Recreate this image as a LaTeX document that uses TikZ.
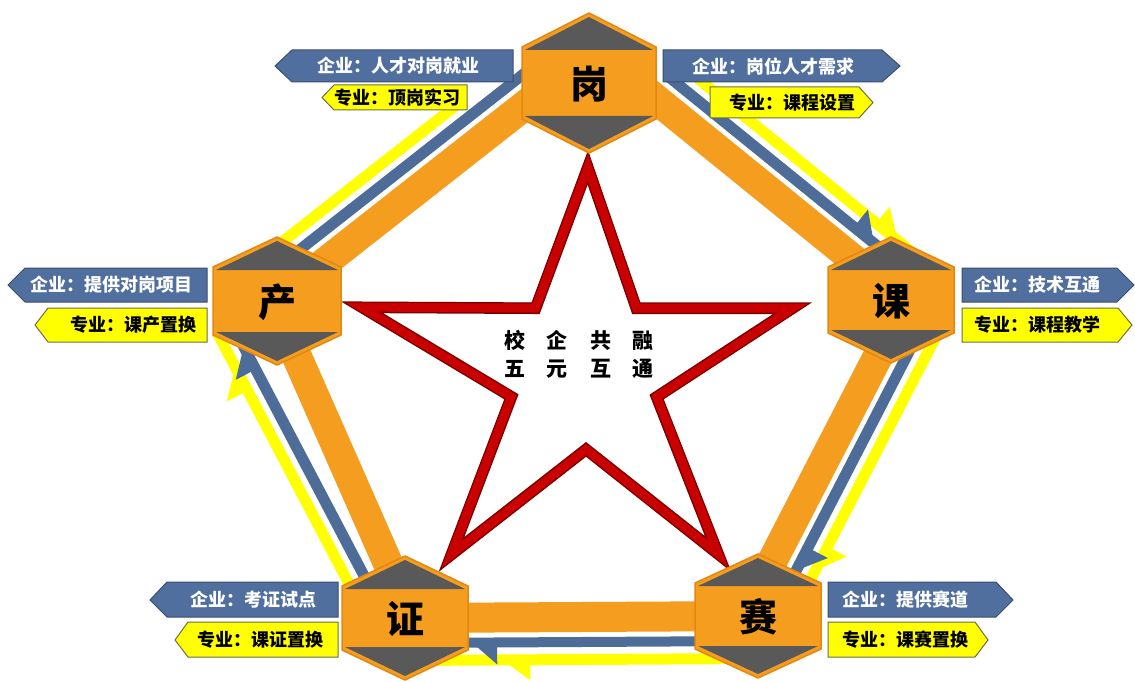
\documentclass[tikz,border=0pt]{standalone}
\usepackage{fontspec}
\newfontfamily\cjk{Noto Sans CJK SC}
\usetikzlibrary{calc}
\definecolor{orng}{RGB}{244,157,30}
\definecolor{orngdk}{RGB}{226,136,16}
\definecolor{hexgray}{RGB}{89,89,89}
\definecolor{stripblue}{RGB}{78,108,152}
\definecolor{stripyel}{RGB}{255,255,0}
\definecolor{starred}{RGB}{200,0,0}
\definecolor{stardk}{RGB}{125,0,0}
\definecolor{lblblue}{RGB}{80,110,158}
\definecolor{lblbluedk}{RGB}{58,78,112}
\definecolor{lblyeldk}{RGB}{110,110,70}
% strip along edge #1->#2 : colour #3, offsets #4..#5, trims #6 (start) #7 (end)
\newcommand\flowstrip[7]{\fill[#3] ($(#1)!#6!(#2)!#4!90:(#2)$) -- ($(#1)!#6!(#2)!#5!90:(#2)$) -- ($(#2)!#7!(#1)!#5!-90:(#1)$) -- ($(#2)!#7!(#1)!#4!-90:(#1)$) -- cycle;}
% barb on edge #1->#2 : colour #3, base offset #4, tip offset #5, back #6 and front #7 (distances from end)
\newcommand\flowbarb[7]{\fill[#3] ($(#2)!#6!(#1)!#4!-90:(#1)$) -- ($(#2)!#6!(#1)!#5!-90:(#1)$) -- ($(#2)!#7!(#1)!#4!-90:(#1)$) -- cycle;}
% hexagon: name, cx, cy, half width, half side, half height, character
\newcommand\hexnode[7]{%
 \filldraw[fill=orng, draw=orngdk, line width=1.5pt] (#2,#3-#6) -- (#2+#4,#3-#5) -- (#2+#4,#3+#5) -- (#2,#3+#6) -- (#2-#4,#3+#5) -- (#2-#4,#3-#5) -- cycle;
 \fill[hexgray] (#2-#4+3,#3-#5+3) -- (#2+#4-3,#3-#5+3) -- (#2,#3-#6+4) -- cycle;
 \fill[hexgray] (#2-#4+3,#3+#5-3) -- (#2+#4-3,#3+#5-3) -- (#2,#3+#6-4) -- cycle;
 \node[hexchar] (#1) at (#2,#3+1) {#7};}
\tikzset{
 band/.style={orng, line width=30pt},
 bluelbl/.style={fill=lblblue, draw=lblbluedk, line width=1pt},
 yellbl/.style={fill=stripyel, draw=lblyeldk, line width=1pt},
 bluetxt/.style={text=white, font=\cjk\bfseries\fontsize{18}{20}\selectfont, inner sep=0pt},
 yeltxt/.style={text=black, font=\cjk\bfseries\fontsize{18}{20}\selectfont, inner sep=0pt},
 hexchar/.style={text=black, font=\cjk\bfseries\fontsize{38}{40}\selectfont, inner sep=0pt},
 startxt/.style={text=black, align=center, font=\cjk\bfseries\fontsize{21}{28}\selectfont, inner sep=0pt},
}
\begin{document}
\begin{tikzpicture}[x=1pt,y=-1pt]
\useasboundingbox (0,0) rectangle (1135,682);
\fill[white] (0,0) rectangle (1135,682);
% pentagon edges (clockwise)
\coordinate (P1) at (594,49);  \coordinate (Q1) at (896,294);
\coordinate (P2) at (909,296); \coordinate (Q2) at (744,616);
\coordinate (P3) at (758,616); \coordinate (Q3) at (405,618);
\coordinate (P4) at (412,618); \coordinate (Q4) at (272,300);
\coordinate (A4) at (415,618); \coordinate (B4) at (248,300);
\coordinate (P5) at (277,300); \coordinate (Q5) at (589,55);
% yellow flows
\flowstrip{P1}{Q1}{stripyel}{37pt}{48pt}{75pt}{0pt}
\flowstrip{P2}{Q2}{stripyel}{37pt}{48pt}{0pt}{0pt}
\flowstrip{P3}{Q3}{stripyel}{37pt}{48pt}{0pt}{0pt}
\flowstrip{A4}{B4}{stripyel}{37pt}{48pt}{0pt}{14pt}
\flowstrip{P5}{Q5}{stripyel}{37pt}{48pt}{0pt}{130pt}
\flowbarb{P1}{Q1}{stripyel}{47.5pt}{64pt}{60pt}{39pt}
\flowbarb{P2}{Q2}{stripyel}{47.5pt}{64pt}{100pt}{79pt}
\flowbarb{P3}{Q3}{stripyel}{47.5pt}{63pt}{125pt}{104pt}
\flowbarb{A4}{B4}{stripyel}{47.5pt}{66pt}{80pt}{59pt}
% blue flows
\flowstrip{P1}{Q1}{stripblue}{20pt}{31pt}{75pt}{0pt}
\flowstrip{P2}{Q2}{stripblue}{20pt}{31pt}{0pt}{0pt}
\flowstrip{P3}{Q3}{stripblue}{20pt}{30pt}{0pt}{0pt}
\flowstrip{A4}{B4}{stripblue}{20pt}{31pt}{0pt}{0pt}
\flowstrip{P5}{Q5}{stripblue}{20pt}{31pt}{0pt}{30pt}
\flowbarb{P1}{Q1}{stripblue}{30.5pt}{48pt}{75pt}{55pt}
\flowbarb{P2}{Q2}{stripblue}{30.5pt}{48pt}{90pt}{70pt}
\flowbarb{P3}{Q3}{stripblue}{29.5pt}{47pt}{92pt}{72pt}
\flowbarb{A4}{B4}{stripblue}{30.5pt}{48pt}{65pt}{45pt}
% orange bands
\draw[band] (P1) -- (Q1);
\draw[band] (P2) -- (Q2);
\draw[band] (P3) -- (Q3);
\draw[band] (P4) -- (Q4);
\draw[band] (P5) -- (Q5);
% star
\coordinate (s1) at (588,152); \coordinate (s2) at (640,303);
\coordinate (s3) at (810,303); \coordinate (s4) at (663,399);
\coordinate (s5) at (730,570); \coordinate (s6) at (586,456);
\coordinate (s7) at (440,570); \coordinate (s8) at (505,399);
\coordinate (s9) at (343,302); \coordinate (s10) at (532,303);
\begin{scope}
\clip (s1) -- (s2) -- (s3) -- (s4) -- (s5) -- (s6) -- (s7) -- (s8) -- (s9) -- (s10) -- cycle;
\draw[stardk, line width=22pt, line join=miter] (s1) -- (s2) -- (s3) -- (s4) -- (s5) -- (s6) -- (s7) -- (s8) -- (s9) -- (s10) -- cycle;
\draw[starred, line width=19pt, line join=miter] (s1) -- (s2) -- (s3) -- (s4) -- (s5) -- (s6) -- (s7) -- (s8) -- (s9) -- (s10) -- cycle;
\end{scope}
\draw[stardk, line width=1.2pt, line join=miter] (s1) -- (s2) -- (s3) -- (s4) -- (s5) -- (s6) -- (s7) -- (s8) -- (s9) -- (s10) -- cycle;
\node[startxt] (stxt) at (579,354) {校\hspace{22pt}企\hspace{22pt}共\hspace{22pt}融\\五\hspace{22pt}元\hspace{22pt}互\hspace{22pt}通};
% hexagons
\hexnode{gang}{589}{83}{67}{36}{70}{岗}
\hexnode{ke}{891}{300}{63}{33}{63}{课}
\hexnode{chan}{277}{301}{64}{34}{64}{产}
\hexnode{zheng}{405}{618}{63}{32}{62}{证}
\hexnode{sai}{758}{616}{63}{33}{62}{赛}
% labels
\filldraw[bluelbl] (275,66) -- (292,50) -- (513,50) -- (513,82) -- (292,82) -- cycle;
\node[bluetxt] (la) at (398,66) {企业：人才对岗就业};
\filldraw[yellbl] (322,97.5) -- (334,85) -- (467,85) -- (467,110) -- (334,110) -- cycle;
\node[yeltxt] (lb) at (397,97.5) {专业：顶岗实习};
\filldraw[bluelbl] (663,50) -- (882,50) -- (900,66) -- (882,82) -- (663,82) -- cycle;
\node[bluetxt] (lc) at (773,66) {企业：岗位人才需求};
\filldraw[yellbl] (710,87) -- (859,87) -- (873,102.5) -- (859,118) -- (710,118) -- cycle;
\node[yeltxt] (ld) at (792,102.5) {专业：课程设置};
\filldraw[bluelbl] (8,285) -- (25,268) -- (207,268) -- (207,302) -- (25,302) -- cycle;
\node[bluetxt] (le) at (111,285) {企业：提供对岗项目};
\filldraw[yellbl] (35,325) -- (48,308) -- (207,308) -- (207,342) -- (48,342) -- cycle;
\node[yeltxt] (lf) at (133,325) {专业：课产置换};
\filldraw[bluelbl] (962,268) -- (1117,268) -- (1134,285) -- (1117,302) -- (962,302) -- cycle;
\node[bluetxt] (lg) at (1037,285) {企业：技术互通};
\filldraw[yellbl] (962,308) -- (1118,308) -- (1132,325) -- (1118,342) -- (962,342) -- cycle;
\node[yeltxt] (lh) at (1037,325) {专业：课程教学};
\filldraw[bluelbl] (150,600) -- (167,582) -- (338,582) -- (338,617) -- (167,617) -- cycle;
\node[bluetxt] (li) at (253,600) {企业：考证试点};
\filldraw[yellbl] (175,640) -- (188,622) -- (338,622) -- (338,657) -- (188,657) -- cycle;
\node[yeltxt] (lj) at (260,640) {专业：课证置换};
\filldraw[bluelbl] (828,582) -- (996,582) -- (1013,600) -- (996,617) -- (828,617) -- cycle;
\node[bluetxt] (lk) at (905,600) {企业：提供赛道};
\filldraw[yellbl] (828,622) -- (975,622) -- (988,640) -- (975,657) -- (828,657) -- cycle;
\node[yeltxt] (ll) at (905,640) {专业：课赛置换};
\end{tikzpicture}
\end{document}
